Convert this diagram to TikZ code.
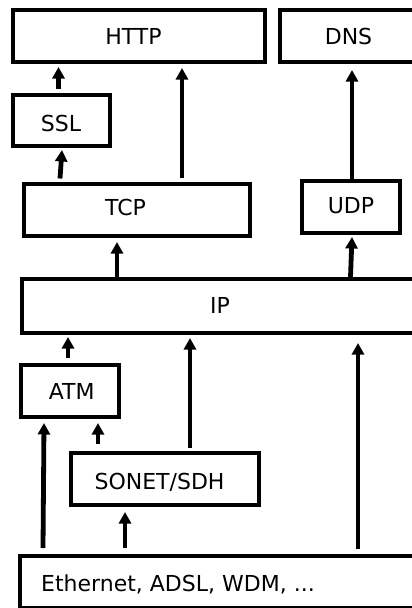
\documentclass[tikz,border=0pt]{standalone}
\usepackage{fontspec}
\setmainfont{DejaVu Sans}
\usetikzlibrary{arrows.meta}
\begin{document}
\begin{tikzpicture}[x=1pt,y=-1pt,
  box/.style={draw, line width=4pt, inner sep=0pt, rectangle},
  lbl/.style={inner sep=0pt, anchor=base, font=\fontsize{22}{26}\selectfont},
  arr/.style={line width=4.8pt, -{Triangle[width=12pt,length=11.5pt]}}]
\useasboundingbox (0,0) rectangle (412,608);
\clip (0,0) rectangle (412,608);
\fill[white] (0,0) rectangle (412,608);

% protocol boxes
\node[box, minimum width=252.5pt, minimum height=52pt] (http)  at (138.75,36)  {};
\node[box, minimum width=136pt,   minimum height=52pt] (dns)   at (348,36)     {};
\node[box, minimum width=97.5pt,  minimum height=51pt] (ssl)   at (61.25,120.5){};
\node[box, minimum width=226pt,   minimum height=52pt] (tcp)   at (137,209.5)  {};
\node[box, minimum width=98pt,    minimum height=52pt] (udp)   at (351,207)    {};
\node[box, minimum width=398.5pt, minimum height=53.5pt] (ip)  at (220.75,305.75) {};
\node[box, minimum width=98pt,    minimum height=52pt] (atm)   at (70,391)     {};
\node[box, minimum width=188pt,   minimum height=52pt] (sonet) at (165,479)    {};
\node[box, minimum width=400pt,   minimum height=51.5pt] (phy) at (220,581.75) {};

% labels
\node[lbl] (httpT)  at (133.5,44.2) {HTTP};
\node[lbl] (dnsT)   at (348.5,44.2) {DNS};
\node[lbl] (sslT)   at (61,131)     {SSL};
\node[lbl] (tcpT)   at (125.5,215.7){TCP};
\node[lbl] (udpT)   at (351,213)    {UDP};
\node[lbl] (ipT)    at (220,313)    {IP};
\node[lbl] (atmT)   at (71.7,399)   {ATM};
\node[lbl] (sonetT) at (159.5,489)  {SONET/SDH};
\node[lbl, anchor=base west] (phyT) at (41,591) {Ethernet, ADSL, WDM, ...};

% layering arrows
\draw[arr] ([xshift=-2.75pt,yshift=3.7pt]ssl.north)   -- ([xshift=-80.25pt,yshift=-3pt]http.south);
\draw[arr] ([xshift=-77pt,yshift=3pt]tcp.north)       -- ([xshift=0.75pt,yshift=-2pt]ssl.south);
\draw[arr] ([xshift=45pt,yshift=4pt]tcp.north)        -- ([xshift=43.25pt,yshift=-4pt]http.south);
\draw[arr] ([xshift=1pt,yshift=0.5pt]udp.north)       -- ([xshift=4pt,yshift=-6pt]dns.south);
\draw[arr] ([xshift=-103.75pt,yshift=0pt]ip.north)    -- ([xshift=-20pt,yshift=-4.5pt]tcp.south);
\draw[arr] ([xshift=129.75pt,yshift=0pt]ip.north)     -- ([xshift=1pt,yshift=-2pt]udp.south);
\draw[arr] ([xshift=-2pt,yshift=5pt]atm.north)        -- ([xshift=-152.75pt,yshift=-2.5pt]ip.south);
\draw[arr] ([xshift=-177pt,yshift=6pt]phy.north)      -- ([xshift=-26pt,yshift=-4pt]atm.south);
\draw[arr] ([xshift=-67pt,yshift=7pt]sonet.north)     -- ([xshift=28pt,yshift=-4pt]atm.south);
\draw[arr] ([xshift=25pt,yshift=3pt]sonet.north)      -- ([xshift=-30.75pt,yshift=-3.5pt]ip.south);
\draw[arr] ([xshift=-95pt,yshift=6pt]phy.north)       -- ([xshift=-40pt,yshift=-5pt]sonet.south);
\draw[arr] ([xshift=138pt,yshift=5pt]phy.north)       -- ([xshift=137.25pt,yshift=-8.5pt]ip.south);
\end{tikzpicture}
\end{document}
